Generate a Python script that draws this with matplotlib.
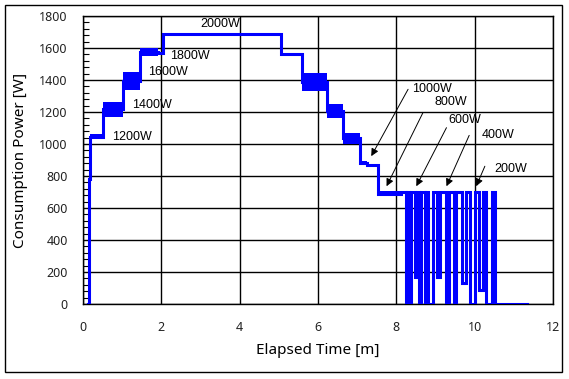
import matplotlib

matplotlib.use("Agg")

import matplotlib.pyplot as plt
from matplotlib.patches import Rectangle
from matplotlib.ticker import AutoMinorLocator, MultipleLocator

# --- stepped load profile: segment start [m], band low / high [W] ---
seg_start = [0.14, 0.16, 0.19, 0.50, 1.02, 1.46, 1.92, 2.05, 5.05, 5.58,
             6.22, 6.64, 7.07, 7.25, 7.53]
seg_low = [0, 780, 1030, 1170, 1335, 1550, 1570, 1688, 1565, 1330,
           1165, 1000, 872, 870, 675]
seg_high = [0, 780, 1060, 1262, 1450, 1598, 1570, 1688, 1565, 1445,
            1250, 1070, 895, 870, 705]

# --- on/off cycling at the end of the run ---
pulse_on = [8.13, 8.28, 8.37, 8.52, 8.64, 8.75, 8.94, 9.11, 9.34, 9.53,
            9.79, 10.00, 10.21, 10.43]
pulse_off = [8.24, 8.33, 8.47, 8.58, 8.72, 8.81, 9.04, 9.26, 9.46, 9.68,
             9.87, 10.10, 10.30, 10.51]
pulse_floor = [0, 0, 170, 0, 0, 0, 170, 0, 0, 130, 0, 90, 0, 0]
pulse_level = 700
end_time = 11.34

# --- labels: text (t, P) and arrow tail/tip ---
step_labels = ["2000W", "1800W", "1600W", "1400W", "1200W"]
step_label_xy = [(3.50, 1750), (2.74, 1548), (2.16, 1451), (1.77, 1242), (1.24, 1046)]
cycle_labels = ["1000W", "800W", "600W", "400W", "200W"]
cycle_label_xy = [(8.91, 1342), (9.38, 1261), (9.75, 1150), (10.59, 1054), (10.92, 845)]
arrow_tail = [(8.30, 1342), (8.68, 1196), (9.28, 1102), (9.86, 1054), (10.26, 861)]
arrow_tip = [(7.36, 924), (7.75, 736), (8.51, 736), (9.28, 736), (10.04, 736)]

# build the line path
xs, ys = [], []
seg_end = seg_start[1:] + [pulse_on[0]]
for t0, t1, lo, hi in zip(seg_start, seg_end, seg_low, seg_high):
    mid = (lo + hi) / 2
    xs += [t0, t1]
    ys += [mid, mid]
prev_floor = ys[-1]
for on, off, fl in zip(pulse_on, pulse_off, pulse_floor):
    xs += [on, on, off, off]
    ys += [prev_floor, pulse_level, pulse_level, fl]
    prev_floor = fl
xs.append(end_time)
ys.append(prev_floor)

fig = plt.figure(figsize=(5.69, 3.79), dpi=100)
ax = fig.add_axes([83 / 569, 75 / 379, 470 / 569, 288 / 379])

blue = "#0000ff"
for t0, t1, lo, hi in zip(seg_start, seg_end, seg_low, seg_high):
    if hi > lo:
        ax.fill_between([t0, t1], [lo, lo], [hi, hi], color=blue, lw=0)
ax.plot(xs, ys, color=blue, lw=2.2, solid_joinstyle="miter", zorder=3)

ax.set_xlim(0, 12)
ax.set_ylim(0, 1800)
ax.xaxis.set_major_locator(MultipleLocator(2))
ax.yaxis.set_major_locator(MultipleLocator(200))
ax.yaxis.set_minor_locator(AutoMinorLocator(5))
ax.grid(True, which="major", color="black", lw=1.0)
ax.set_axisbelow(True)
for s in ax.spines.values():
    s.set_linewidth(1.0)
ax.tick_params(axis="both", which="major", length=0, pad=11, labelsize=9)
ax.tick_params(axis="x", which="major", pad=12)
ax.tick_params(axis="y", which="minor", direction="in", length=4, width=0.8)
for lab in ax.get_xticklabels() + ax.get_yticklabels():
    lab.set_family("Noto Sans")
    lab.set_color("#222222")

ax.set_xlabel("Elapsed Time [m]", family="Noto Sans", fontsize=11,
              fontweight="semibold", labelpad=7)
ax.set_ylabel("Consumption Power [W]", family="Noto Sans", fontsize=11,
              fontweight="semibold", labelpad=8)

for txt, (x, y) in zip(step_labels + cycle_labels, step_label_xy + cycle_label_xy):
    ax.text(x, y, txt, family="Liberation Sans", fontsize=9, ha="center",
            va="center", zorder=4)
for tail, tip in zip(arrow_tail, arrow_tip):
    ax.annotate("", xy=tip, xytext=tail,
                arrowprops=dict(arrowstyle="-|>", color="black", lw=0.7,
                                mutation_scale=11, shrinkA=0, shrinkB=0),
                zorder=4)

fig.patches.append(Rectangle((5 / 569, 7 / 379), 557 / 569, 367 / 379,
                             transform=fig.transFigure, fill=False,
                             edgecolor="black", lw=1.0))

fig.savefig("out.png", dpi=100)
